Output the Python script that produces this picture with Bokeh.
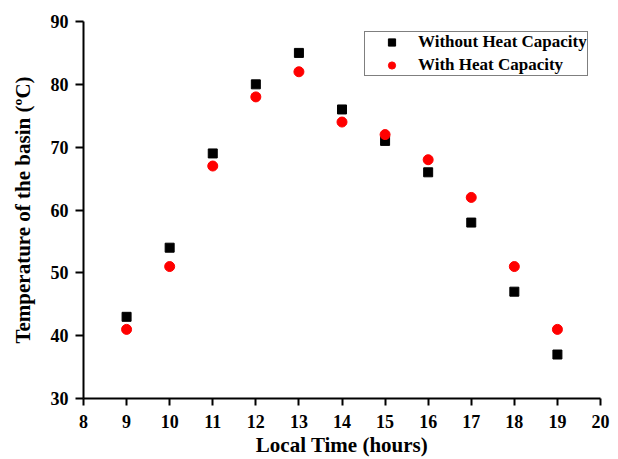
from bokeh.plotting import figure
from bokeh.models import Range1d, FixedTicker, Legend, LegendItem, ColumnDataSource
from bokeh.embed import file_html
from bokeh.resources import INLINE

hours = [9, 10, 11, 12, 13, 14, 15, 16, 17, 18, 19]
without_hc = [43, 54, 69, 80, 85, 76, 71, 66, 58, 47, 37]
with_hc = [41, 51, 67, 78, 82, 74, 72, 68, 62, 51, 41]
x_ticks = [8, 9, 10, 11, 12, 13, 14, 15, 16, 17, 18, 19, 20]
y_ticks = [30, 40, 50, 60, 70, 80, 90]

FONT = "Liberation Serif"

p = figure(width=618, height=459, output_backend="svg", toolbar_location=None,
           x_range=Range1d(8, 20), y_range=Range1d(30, 90),
           min_border_left=83, min_border_right=18, min_border_top=21, min_border_bottom=60)
p.outline_line_color = None
p.xgrid.visible = False
p.ygrid.visible = False
p.background_fill_color = "white"
p.border_fill_color = "white"

src = ColumnDataSource(dict(x=hours, a=without_hc, b=with_hc))
r1 = p.scatter("x", "a", source=src, marker="square", size=9, color="black")
r2 = p.scatter("x", "b", source=src, marker="circle", size=10, color="red")

for ax, ticks in ((p.xaxis, x_ticks), (p.yaxis, y_ticks)):
    ax.ticker = FixedTicker(ticks=ticks)
    ax.minor_tick_line_color = None
    ax.major_tick_in = 0
    ax.major_tick_out = 7
    ax.axis_line_width = 2
    ax.major_tick_line_width = 2
    ax.axis_line_color = "black"
    ax.major_tick_line_color = "black"
    ax.major_label_text_font = FONT
    ax.major_label_text_font_style = "bold"
    ax.major_label_text_font_size = "18px"
    ax.major_label_text_color = "black"
    ax.axis_label_text_font = FONT
    ax.axis_label_text_font_style = "bold"
    ax.axis_label_text_font_size = "21px"
    ax.axis_label_text_color = "black"

p.xaxis.axis_label = "Local Time (hours)"
p.yaxis.axis_label = "Temperature of the basin (ºC)"
p.xaxis.major_label_standoff = 9
p.xaxis.axis_label_standoff = 2
p.yaxis.major_tick_out = 8
p.yaxis.major_label_standoff = 7
p.yaxis.axis_label_standoff = 13

legend = Legend(items=[LegendItem(label="Without Heat Capacity", renderers=[r1]),
                       LegendItem(label="With Heat Capacity", renderers=[r2])],
                location=(281, 322))
legend.border_line_color = "black"
legend.border_line_width = 1
legend.background_fill_alpha = 1
legend.padding = 0
legend.spacing = 3
legend.margin = 0
legend.glyph_width = 53
legend.glyph_height = 18
legend.label_height = 18
legend.label_standoff = 0
legend.label_text_font = FONT
legend.label_text_font_style = "bold"
legend.label_text_font_size = "17px"
legend.label_text_color = "black"
p.add_layout(legend, "center")

open("out.html", "w").write(file_html(p, INLINE))
